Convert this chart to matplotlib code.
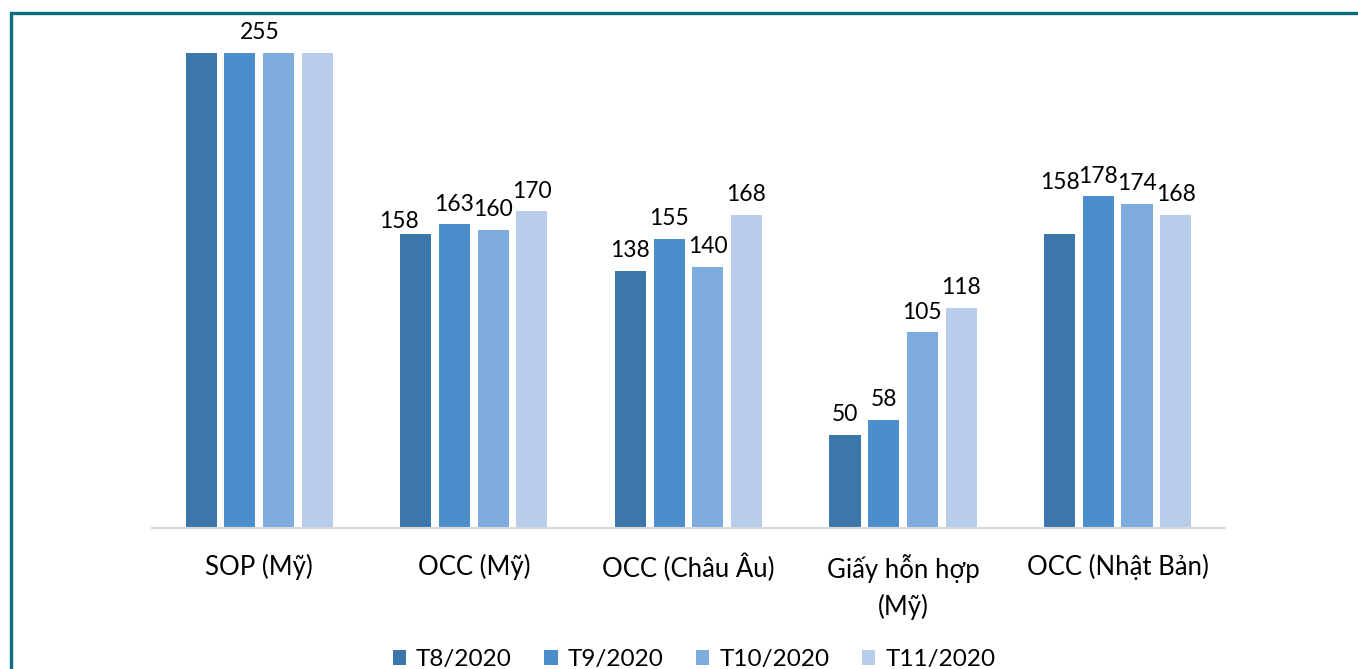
import matplotlib
matplotlib.use('Agg')
import matplotlib.pyplot as plt
import numpy as np
from matplotlib.patches import Rectangle

categories = ['SOP (Mỹ)', 'OCC (Mỹ)', 'OCC (Châu Âu)', 'Giấy hỗn hợp\n(Mỹ)', 'OCC (Nhật Bản)']
series = ['T8/2020', 'T9/2020', 'T10/2020', 'T11/2020']
t8 = [255, 158, 138, 50, 158]
t9 = [255, 163, 155, 58, 178]
t10 = [255, 160, 140, 105, 174]
t11 = [255, 170, 168, 118, 168]
colors = ['#3c77ac', '#4a8ecb', '#7eacde', '#b7cdea']

# small hand nudges for labels Excel moved (points), keyed by (category, series)
nudges = {(1, 0): (-12, -6), (4, 0): (0, 22)}

plt.rcParams['font.family'] = ['Lato', 'DejaVu Sans']

fig = plt.figure(figsize=(13.58, 6.69), dpi=100)
ax = fig.add_axes([0.1119, 0.2108, 0.7901, 0.7797])

values = [t8, t9, t10, t11]
x = np.arange(len(categories))
step = 0.1803
width = 0.145
for i, vals in enumerate(values):
    ax.bar(x + (i - 1.5) * step, vals, width, color=colors[i], label=series[i], zorder=2)

for c in range(len(categories)):
    group = [v[c] for v in values]
    if len(set(group)) == 1:
        ax.annotate(str(group[0]), (x[c], group[0]), xytext=(0, 7), textcoords='offset points',
                    ha='center', va='bottom', fontsize=16.5)
        continue
    for i, v in enumerate(group):
        dx, dy = nudges.get((c, i), (0, 0))
        ax.annotate(str(v), (x[c] + (i - 1.5) * step, v), xytext=(dx, 7 + dy),
                    textcoords='offset points', ha='center', va='bottom', fontsize=16.5)

ax.set_xlim(-0.5, len(categories) - 0.5)
ax.set_ylim(0, 280)
ax.set_xticks(x)
ax.set_xticklabels(categories, fontsize=18.5, linespacing=1.54)
ax.tick_params(axis='x', length=0, pad=18.5)
ax.set_yticks([])
for s in ['top', 'right', 'left']:
    ax.spines[s].set_visible(False)
ax.spines['bottom'].set_color('#d9d9d9')
ax.spines['bottom'].set_linewidth(1.5)

fig.legend(loc='lower center', bbox_to_anchor=(0.511, -0.034), ncol=4, frameon=False,
           fontsize=17.5, handlelength=0.55, handleheight=0.55, handletextpad=0.4,
           columnspacing=1.35)

# teal frame around the figure
fig.patches.append(Rectangle((11 / 1358, -0.1), 1.2, 1 - 12.5 / 669 + 0.1, transform=fig.transFigure,
                             fill=False, edgecolor='#0b6f7c', linewidth=2.4))

fig.savefig('out.png', dpi=100)
